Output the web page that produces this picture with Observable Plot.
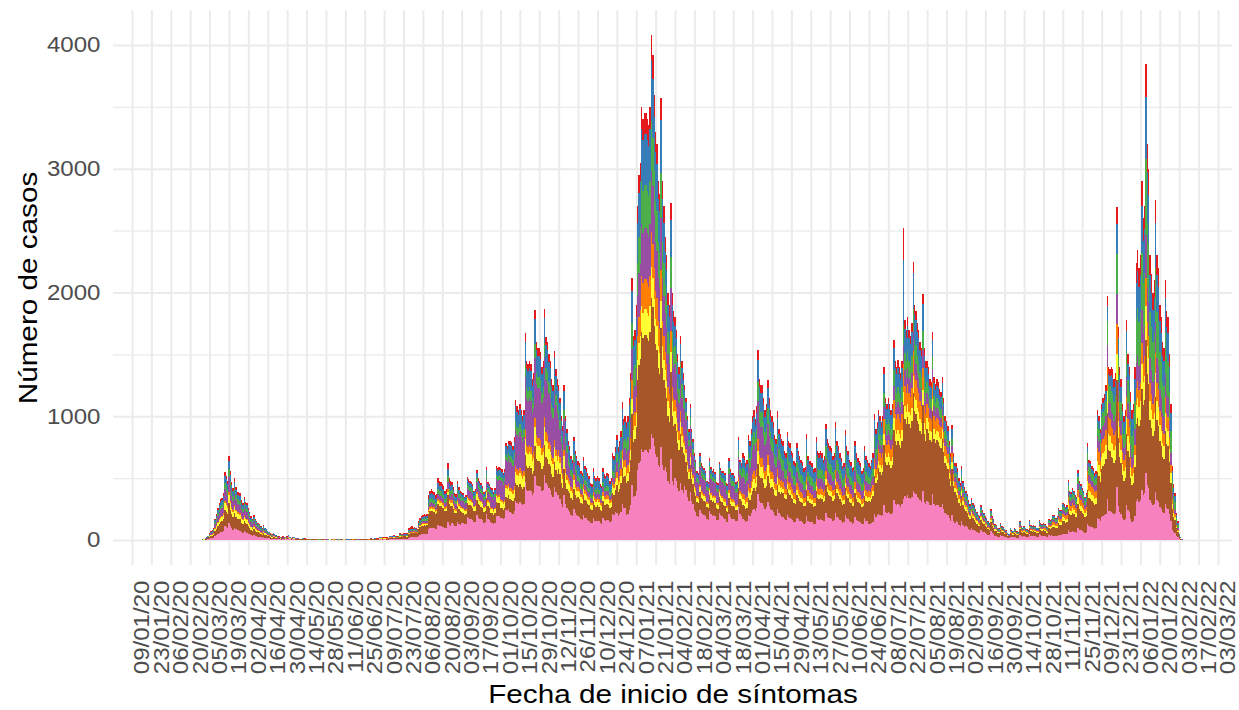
<!DOCTYPE html>
<html><head><meta charset="utf-8">
<script src="https://cdn.jsdelivr.net/npm/d3@7"></script>
<script src="https://cdn.jsdelivr.net/npm/@observablehq/plot@0.6"></script>
<style>html,body{margin:0;padding:0;background:#fff}#chart svg{display:block}</style>
</head><body><div id="chart"></div>
<script>
const startDay = "2020-02-13";
const provinces = ["Almería","Cádiz","Córdoba","Granada","Huelva","Jaén","Málaga","Sevilla"];
const palette = ["#E41A1C","#377EB8","#4DAF4A","#984EA3","#FF7F00","#FFFF33","#A65628","#F781BF"];
const stackOrder = ["Sevilla","Málaga","Jaén","Huelva","Granada","Córdoba","Cádiz","Almería"];
const tickLabels = ["09/01/20","23/01/20","06/02/20","20/02/20","05/03/20","19/03/20","02/04/20","16/04/20","30/04/20","14/05/20","28/05/20","11/06/20","25/06/20","09/07/20","23/07/20","06/08/20","20/08/20","03/09/20","17/09/20","01/10/20","15/10/20","29/10/20","12/11/20","26/11/20","10/12/20","24/12/20","07/01/21","21/01/21","04/02/21","18/02/21","04/03/21","18/03/21","01/04/21","15/04/21","29/04/21","13/05/21","27/05/21","10/06/21","24/06/21","08/07/21","22/07/21","05/08/21","19/08/21","02/09/21","16/09/21","30/09/21","14/10/21","28/10/21","11/11/21","25/11/21","09/12/21","23/12/21","06/01/22","20/01/22","03/02/22","17/02/22","03/03/22"];
const yTicks = [0,1000,2000,3000,4000];
const yMinor = [500,1500,2500,3500];
const xTitle = "Fecha de inicio de síntomas";
const yTitle = "Número de casos";

const sevilla = [
0,0,0,0,1,0,0,
0,1,0,0,1,1,1,
1,1,1,2,3,4,7,
11,14,16,19,34,42,52,
60,66,68,76,110,104,96,
136,112,94,84,100,86,78,
78,76,64,60,70,62,60,
52,46,38,34,40,34,30,
28,26,22,19,24,20,18,
15,13,11,9,12,10,8,
7,6,5,4,6,6,5,
6,8,5,4,6,5,4,
4,3,2,2,3,3,3,
2,2,2,1,2,2,2,
2,2,1,1,2,2,2,
1,2,1,1,2,1,1,
2,1,1,1,2,2,1,
2,1,1,1,2,1,2,
2,2,1,1,2,2,2,
2,2,2,2,3,2,2,
3,3,3,2,5,5,4,
5,5,4,4,7,7,7,
8,7,6,6,11,11,10,
12,12,11,11,20,21,22,
24,25,23,22,36,42,46,
48,50,48,50,86,96,98,
96,94,86,89,120,115,113,
108,106,96,98,149,120,115,
141,129,114,111,144,129,120,
140,137,126,130,184,176,173,
169,162,144,148,203,180,173,
166,158,140,144,212,169,162,
142,139,129,139,198,191,195,
180,177,167,177,242,236,248,
224,221,213,232,316,302,294,
308,294,280,294,468,406,398,
406,398,364,378,521,448,434,
434,426,392,406,524,459,448,
420,406,364,350,428,386,364,
363,334,290,267,363,290,261,
240,228,204,195,249,216,204,
192,186,168,162,201,180,174,
162,156,138,135,174,156,150,
156,150,135,132,174,159,156,
162,159,144,150,210,204,225,
221,195,208,229,290,255,260,
200,210,242,284,444,347,357,
399,567,620,641,735,714,725,
725,714,704,735,857,823,756,
693,672,609,588,750,609,567,
588,552,480,456,653,480,444,
504,476,420,392,462,406,378,
438,403,350,315,385,315,287,
245,228,196,189,245,217,210,
203,196,168,165,231,207,196,
200,193,165,161,221,203,196,
179,173,147,144,211,182,173,
173,166,150,154,266,208,198,
168,163,149,156,204,192,216,
240,252,235,259,368,312,300,
300,276,252,264,310,276,252,
240,228,204,197,250,216,206,
189,184,166,161,201,184,179,
166,161,147,143,179,166,156,
150,145,133,136,198,156,147,
147,143,131,133,192,166,161,
166,161,150,156,216,189,179,
175,170,156,161,219,184,175,
161,152,138,143,205,175,166,
150,145,133,136,184,161,152,
147,143,129,133,175,156,150,
130,126,137,147,214,189,200,
210,200,190,200,280,230,220,
230,220,210,220,323,290,280,
290,280,270,290,330,356,340,
360,340,330,350,400,380,370,
350,340,320,310,398,310,290,
319,308,286,282,370,290,277,
286,282,268,264,290,253,220,
211,202,176,154,205,154,136,
155,145,125,115,150,120,108,
112,104,90,81,95,84,78,
70,64,56,53,78,67,62,
53,50,42,39,70,53,48,
36,34,28,27,38,32,29,
25,22,17,14,28,22,21,
27,25,20,18,43,31,28,
31,28,24,22,45,34,32,
34,32,27,27,45,38,36,
31,29,24,23,37,35,37,
34,34,31,32,44,41,41,
51,49,46,48,82,68,66,
71,68,61,60,96,82,77,
71,68,60,65,133,111,109,
102,99,92,95,179,170,153,
187,196,201,213,335,238,235,
224,221,208,216,430,275,224,
208,176,160,168,285,240,224,
168,147,154,196,313,328,308,
322,406,364,378,539,448,420,
322,301,280,294,385,322,308,
266,252,224,217,294,259,252,
210,154,84,63,53,31,21,
7,4,1];

const malaga = [
0,1,0,0,1,1,0,
1,1,1,0,1,1,1,
1,1,1,2,4,5,8,
13,17,19,23,41,50,62,
72,79,82,91,132,125,115,
163,134,113,101,120,103,94,
94,91,77,72,84,74,72,
62,55,46,41,48,41,36,
34,31,26,23,29,24,22,
18,16,13,11,14,12,10,
8,7,6,5,7,7,6,
7,9,6,5,7,6,5,
5,4,4,3,5,4,4,
3,3,2,2,4,3,3,
3,2,2,2,3,3,2,
2,2,2,1,3,2,2,
2,2,2,2,3,2,3,
2,2,2,1,3,3,2,
3,3,2,2,3,3,3,
3,3,3,2,4,4,3,
5,5,4,4,7,7,7,
7,7,7,6,11,11,10,
11,11,10,9,16,16,15,
18,18,16,16,30,32,33,
34,36,32,31,51,60,65,
68,71,68,71,122,136,139,
136,133,122,126,170,163,160,
153,150,136,139,211,170,163,
132,120,106,104,134,120,112,
86,84,77,79,112,108,106,
103,99,88,90,124,110,106,
101,97,86,88,130,103,99,
77,76,70,76,108,104,106,
81,80,76,80,109,106,112,
104,103,99,108,147,140,137,
143,137,130,137,217,189,185,
189,185,169,176,242,208,202,
202,198,182,189,243,213,208,
195,189,169,163,199,179,169,
213,196,170,156,213,170,153,
160,152,136,130,166,144,136,
154,149,134,130,161,144,139,
130,125,110,108,139,125,120,
125,120,108,106,139,127,125,
130,127,115,120,168,163,180,
221,195,208,229,290,255,260,
257,270,311,365,571,446,459,
513,729,797,824,945,918,932,
932,918,905,945,1102,1058,972,
891,864,783,756,964,783,729,
637,598,520,494,707,520,481,
432,408,360,336,396,348,324,
250,230,200,180,220,180,164,
140,130,112,108,140,124,120,
116,112,96,94,132,118,112,
114,110,94,92,126,116,112,
106,103,87,86,125,108,103,
103,99,89,91,158,124,118,
112,109,99,104,136,128,144,
160,168,157,173,246,208,200,
200,184,168,176,206,184,168,
190,181,162,156,198,171,163,
197,192,173,168,210,192,187,
173,168,154,149,187,173,163,
156,151,139,142,206,163,154,
154,149,137,139,200,173,168,
173,168,156,163,226,197,187,
182,178,163,168,228,192,182,
168,158,144,149,214,182,173,
156,151,139,142,192,168,158,
154,149,134,139,182,163,156,
186,180,195,210,306,270,285,
368,350,333,350,490,403,385,
403,385,368,385,565,508,490,
508,490,473,508,760,623,595,
630,595,578,613,790,665,648,
613,595,560,543,697,543,508,
580,560,520,512,672,528,504,
520,512,488,480,528,460,400,
384,368,320,280,372,280,248,
211,197,170,156,204,163,146,
120,111,96,87,102,90,84,
75,69,60,57,84,72,66,
57,54,45,42,75,57,51,
39,36,30,28,40,35,32,
27,24,18,15,30,24,22,
28,27,21,20,46,33,30,
33,30,26,24,48,36,35,
36,35,29,29,48,41,39,
46,43,36,35,56,53,56,
70,70,63,67,91,84,84,
105,102,95,98,170,140,137,
147,140,126,123,198,168,158,
147,140,123,133,273,228,224,
210,203,189,196,368,350,315,
385,403,413,438,690,490,483,
448,442,416,432,861,550,448,
416,352,320,336,570,480,448,
336,294,308,392,626,655,616,
644,812,728,756,1078,896,840,
644,602,560,588,770,644,616,
532,504,448,434,588,518,504,
420,308,168,126,106,62,42,
14,7,2];

const jaen = [
0,0,0,0,0,0,0,
0,0,0,0,0,0,0,
0,0,1,1,1,2,4,
6,7,8,10,17,21,26,
30,33,34,38,55,52,48,
68,56,47,42,50,43,39,
39,38,32,30,35,31,30,
26,23,19,17,20,17,15,
14,13,11,10,12,10,9,
8,6,5,4,6,5,4,
4,3,3,2,3,3,3,
3,4,2,2,3,2,2,
1,1,1,0,1,1,1,
1,0,0,0,1,1,0,
0,0,0,0,1,0,0,
0,0,0,0,0,1,0,
0,0,0,0,0,0,1,
0,0,0,0,1,0,0,
0,0,0,0,1,0,0,
0,0,0,0,1,1,0,
1,1,0,1,1,1,1,
1,1,1,1,1,1,1,
2,1,1,1,2,2,2,
2,2,2,2,4,4,4,
5,5,5,4,8,9,9,
10,11,10,11,18,20,21,
20,20,18,19,25,24,24,
23,22,20,21,31,25,24,
28,26,23,22,29,26,24,
31,30,28,29,41,39,38,
38,36,32,33,45,40,38,
37,35,31,32,47,38,36,
34,34,31,34,48,46,47,
52,51,49,51,70,68,72,
64,63,61,66,90,86,84,
88,84,80,84,134,116,114,
116,114,104,108,149,128,124,
124,122,112,116,150,131,128,
120,116,104,100,122,110,104,
100,92,80,74,100,80,72,
64,61,54,52,66,58,54,
51,50,45,43,54,48,46,
43,42,37,36,46,42,40,
42,40,36,35,46,42,42,
43,42,38,40,56,54,60,
60,53,56,62,78,69,70,
57,60,69,81,127,99,102,
114,162,177,183,210,204,207,
207,204,201,210,245,235,216,
198,192,174,168,214,174,162,
147,138,120,114,163,120,111,
108,102,90,84,99,87,81,
75,69,60,54,66,54,49,
42,39,34,32,42,37,36,
35,34,29,28,40,35,34,
34,33,28,28,38,35,34,
34,32,28,27,40,34,32,
32,31,28,29,50,39,37,
49,48,43,46,60,56,63,
70,74,69,76,107,91,88,
88,81,74,77,90,81,74,
60,57,51,49,62,54,52,
41,40,36,35,44,40,39,
36,35,32,31,39,36,34,
33,32,29,30,43,34,32,
32,31,29,29,42,36,35,
36,35,33,34,47,41,39,
38,37,34,35,48,40,38,
35,33,30,31,45,38,36,
33,32,29,30,40,35,33,
32,31,28,29,38,34,33,
31,30,33,35,51,45,48,
63,60,57,60,84,69,66,
69,66,63,66,97,87,84,
87,84,81,87,105,107,102,
108,102,99,105,135,114,111,
105,102,96,93,119,93,87,
87,84,78,77,101,79,76,
78,77,73,72,79,69,60,
58,55,48,42,56,42,37,
43,41,35,32,42,34,30,
32,30,26,23,27,24,22,
20,18,16,15,22,19,18,
15,14,12,11,20,15,14,
10,10,8,8,11,9,8,
7,6,5,4,8,6,6,
8,7,6,5,12,9,8,
9,8,7,6,13,10,9,
10,9,8,8,13,11,10,
13,12,10,9,15,14,15,
18,18,16,17,23,22,22,
27,26,24,25,44,36,35,
38,36,32,32,51,43,41,
38,36,32,34,70,59,58,
54,52,49,50,95,90,81,
99,104,106,113,177,126,124,
112,110,104,108,215,138,112,
104,88,80,84,142,120,112,
84,74,77,98,156,164,154,
161,203,182,189,270,224,210,
161,150,140,147,193,161,154,
133,126,112,109,147,130,126,
105,77,42,32,27,15,11,
4,2,1];

const huelva = [
0,0,0,0,0,0,0,
0,0,0,0,0,0,0,
0,0,0,0,0,1,1,
2,2,2,3,5,6,8,
9,10,10,11,17,16,14,
20,17,14,13,15,13,12,
12,11,10,9,11,9,9,
8,7,6,5,6,5,5,
4,4,3,3,4,3,3,
2,2,2,1,2,2,1,
1,1,1,1,1,1,1,
1,3,1,1,1,1,1,
1,1,0,1,1,1,0,
1,1,1,0,1,0,1,
1,1,0,1,1,1,1,
1,0,1,0,1,1,0,
1,1,0,0,1,0,1,
0,1,0,0,1,1,1,
1,1,0,1,1,1,1,
1,1,1,1,1,1,1,
1,1,1,1,1,1,1,
1,1,1,1,2,2,2,
2,2,2,2,3,3,3,
3,3,3,3,5,5,6,
4,4,4,4,6,7,8,
8,8,8,8,14,16,16,
16,16,14,15,20,19,19,
18,18,16,16,25,20,19,
19,17,15,15,19,17,16,
12,11,11,11,15,15,14,
14,14,12,12,17,15,14,
14,13,12,12,18,14,14,
13,13,12,13,18,17,18,
17,17,16,17,23,23,24,
32,32,30,33,45,43,42,
44,42,40,42,67,58,57,
58,57,52,54,74,64,62,
62,61,56,58,75,66,64,
60,58,52,50,61,55,52,
50,46,40,37,50,40,36,
40,38,34,33,42,36,34,
32,31,28,27,34,30,29,
27,26,23,23,29,26,25,
26,25,23,22,29,27,26,
27,27,24,25,35,34,38,
51,45,48,53,67,59,60,
67,70,81,95,148,116,119,
133,189,207,214,245,238,242,
242,238,235,245,286,274,252,
231,224,203,196,250,203,189,
147,138,120,114,163,120,111,
90,85,75,70,83,73,68,
38,35,30,27,33,27,25,
21,20,17,16,21,19,18,
17,17,14,14,20,18,17,
17,17,14,14,19,17,17,
22,22,18,18,26,23,22,
22,21,19,19,33,26,25,
42,41,37,39,51,48,54,
60,63,59,65,92,78,75,
75,69,63,66,77,69,63,
60,57,51,49,62,54,52,
57,56,50,49,61,56,55,
50,49,45,43,55,50,48,
46,44,41,41,60,48,45,
45,43,40,41,58,50,49,
50,49,46,48,66,57,55,
53,52,48,49,67,56,53,
49,46,42,43,62,53,50,
46,44,41,41,56,49,46,
45,43,39,41,53,48,46,
50,48,52,56,82,72,76,
95,90,86,90,126,104,99,
104,99,95,99,145,131,126,
131,126,122,131,225,160,153,
162,153,149,158,203,171,167,
158,153,144,140,179,140,131,
116,112,104,102,134,106,101,
104,102,98,96,106,92,80,
77,74,64,56,74,56,50,
37,35,30,28,36,29,26,
20,19,16,15,17,15,14,
13,12,10,10,14,12,11,
10,9,8,7,13,10,9,
7,6,5,5,7,6,5,
5,4,3,3,5,4,4,
5,5,3,3,8,5,5,
5,5,4,4,8,6,6,
6,6,5,5,8,7,7,
11,10,9,8,14,13,14,
20,20,18,19,26,24,24,
30,29,27,28,49,40,39,
42,40,36,35,57,48,45,
42,40,35,38,78,65,64,
60,58,54,56,105,100,90,
110,115,118,125,197,140,138,
126,124,117,122,242,155,126,
117,99,90,95,160,135,126,
72,63,66,84,134,140,132,
138,174,156,162,231,192,180,
138,129,120,126,165,138,132,
114,108,96,93,126,111,108,
90,66,36,27,23,13,9,
3,1,0];

const granada = [
0,0,0,0,0,0,1,
0,0,0,1,1,0,1,
1,1,1,1,3,4,6,
10,13,14,17,31,38,47,
54,59,61,68,99,94,86,
122,101,85,76,90,77,70,
70,68,58,54,63,56,54,
47,41,34,31,36,31,27,
25,23,20,17,22,18,16,
13,12,10,8,11,9,7,
6,5,4,4,5,5,4,
5,7,4,4,5,4,4,
2,2,1,1,2,1,1,
1,1,1,1,1,1,1,
1,1,1,0,1,1,1,
1,1,0,1,1,1,1,
1,1,1,1,1,1,1,
1,1,0,1,1,1,1,
1,1,1,1,1,1,1,
1,1,1,1,1,1,1,
1,1,1,1,2,2,2,
2,2,2,2,3,3,3,
3,3,3,2,4,4,4,
5,5,4,4,8,8,9,
8,8,8,7,12,14,15,
16,17,16,17,29,32,33,
32,31,29,30,40,38,38,
36,35,32,33,50,40,38,
52,47,42,41,53,47,44,
55,53,49,50,71,69,67,
66,63,56,57,79,70,67,
64,62,55,56,83,66,63,
86,84,78,84,120,116,118,
151,148,140,148,203,198,208,
208,205,198,216,294,281,273,
286,273,260,273,434,377,369,
377,369,338,351,484,416,403,
403,395,364,377,486,426,416,
390,377,338,325,398,359,338,
250,230,200,184,250,200,180,
104,99,88,85,108,94,88,
45,43,39,38,47,42,41,
38,36,32,32,41,36,35,
36,35,32,31,41,37,36,
38,37,34,35,49,48,53,
77,68,72,79,100,88,90,
114,120,138,162,254,198,204,
228,324,354,366,420,408,414,
414,408,402,420,490,470,432,
396,384,348,336,428,348,324,
319,299,260,247,354,260,241,
288,272,240,224,264,232,216,
250,230,200,180,220,180,164,
140,130,112,108,140,124,120,
116,112,96,94,132,118,112,
114,110,94,92,126,116,112,
112,108,92,90,132,114,108,
108,104,94,96,166,130,124,
140,136,124,130,170,160,180,
200,210,196,216,307,260,250,
250,230,210,220,258,230,210,
170,162,145,139,177,153,146,
90,88,79,77,96,88,86,
79,77,70,68,86,79,75,
72,69,64,65,95,75,70,
70,68,63,64,92,79,77,
79,77,72,75,103,90,86,
84,81,75,77,105,88,84,
77,73,66,68,98,84,79,
72,69,64,65,88,77,73,
70,68,62,64,84,75,72,
56,54,59,63,92,81,86,
74,70,67,70,98,81,77,
81,77,74,77,113,102,98,
102,98,95,102,155,125,119,
126,119,116,123,158,133,130,
123,119,112,109,139,109,102,
87,84,78,77,101,79,76,
78,77,73,72,79,69,60,
58,55,48,42,56,42,37,
43,41,35,32,42,34,30,
32,30,26,23,27,24,22,
20,18,16,15,22,19,18,
15,14,12,11,20,15,14,
10,10,8,8,11,9,8,
7,6,5,4,8,6,6,
8,7,6,5,12,9,8,
9,8,7,6,13,10,9,
10,9,8,8,13,11,10,
11,10,9,8,14,13,14,
18,18,16,17,23,22,22,
27,26,24,25,44,36,35,
38,36,32,32,51,43,41,
38,36,32,34,70,59,58,
54,52,49,50,95,90,81,
99,104,106,113,177,126,124,
126,124,117,122,242,155,126,
117,99,90,95,160,135,126,
108,95,99,126,201,211,198,
207,261,234,243,347,288,270,
207,194,180,189,247,207,198,
171,162,144,140,189,167,162,
135,99,54,41,34,20,14,
4,2,1];

const cordoba = [
0,0,0,0,0,0,0,
0,0,0,0,0,0,0,
0,0,0,1,1,2,3,
5,6,7,9,15,19,23,
27,30,31,34,50,47,43,
61,50,42,38,45,39,35,
35,34,29,27,32,28,27,
23,21,17,15,18,15,14,
13,12,10,8,11,9,8,
7,6,5,4,5,4,4,
3,3,2,2,3,2,2,
3,3,2,1,2,2,1,
1,1,1,1,1,1,1,
1,1,0,1,1,1,1,
1,1,1,1,1,1,1,
1,1,1,0,1,1,1,
1,0,1,1,1,1,0,
1,1,1,1,1,0,1,
1,1,1,0,1,1,1,
1,1,1,1,1,1,1,
1,1,1,1,2,2,1,
1,1,1,1,2,2,2,
2,2,2,2,3,3,3,
4,4,3,3,6,6,7,
8,8,8,7,12,14,15,
16,17,16,17,29,32,33,
32,31,29,30,40,38,38,
36,35,32,33,50,40,38,
33,30,27,26,34,30,28,
23,23,21,22,31,29,29,
28,27,24,25,34,30,29,
28,26,23,24,35,28,27,
26,25,23,25,36,35,35,
29,29,27,29,39,38,40,
48,47,46,50,68,65,63,
66,63,60,63,100,87,85,
87,85,78,81,112,96,93,
93,91,84,87,112,98,96,
90,87,78,75,92,83,78,
75,69,60,55,75,60,54,
56,53,48,46,58,50,48,
45,43,39,38,47,42,41,
38,36,32,32,41,36,35,
36,35,32,31,41,37,36,
38,37,34,35,49,48,53,
68,60,64,70,89,78,80,
95,100,115,135,212,165,170,
190,270,295,305,350,340,345,
345,340,335,350,408,392,360,
330,320,290,280,357,290,270,
221,207,180,171,245,180,167,
144,136,120,112,132,116,108,
75,69,60,54,66,54,49,
42,39,34,32,42,37,36,
35,34,29,28,40,35,34,
34,33,28,28,38,35,34,
39,38,32,32,46,40,38,
38,36,33,34,58,46,43,
70,68,62,65,85,80,90,
100,105,98,108,154,130,125,
125,115,105,110,129,115,105,
100,95,85,82,104,90,86,
90,88,79,77,96,88,86,
79,77,70,68,86,79,75,
72,69,64,65,95,75,70,
70,68,63,64,92,79,77,
79,77,72,75,103,90,86,
84,81,75,77,105,88,84,
77,73,66,68,98,84,79,
72,69,64,65,88,77,73,
70,68,62,64,84,75,72,
56,54,59,63,92,81,86,
84,80,76,80,112,92,88,
92,88,84,88,129,116,112,
116,112,108,116,160,142,136,
144,136,132,140,180,152,148,
140,136,128,124,159,124,116,
87,84,78,77,101,79,76,
78,77,73,72,79,69,60,
58,55,48,42,56,42,37,
43,41,35,32,42,34,30,
28,26,22,20,24,21,20,
18,16,14,13,20,17,15,
13,13,11,10,18,13,12,
9,8,7,7,9,8,7,
6,6,4,4,7,6,5,
7,6,5,5,11,8,7,
8,7,6,6,11,8,8,
8,8,7,7,11,9,9,
11,10,9,8,14,13,14,
20,20,18,19,26,24,24,
30,29,27,28,49,40,39,
42,40,36,35,57,48,45,
42,40,35,38,78,65,64,
60,58,54,56,105,100,90,
110,115,118,125,197,140,138,
168,166,156,162,323,206,168,
156,132,120,126,214,180,168,
192,168,176,224,358,374,352,
368,464,416,432,616,512,480,
368,344,320,336,440,368,352,
304,288,256,248,336,296,288,
240,176,96,72,61,35,24,
8,4,1];

const cadiz = [
0,0,0,0,0,0,0,
0,0,0,0,0,0,0,
0,1,1,1,2,3,4,
5,7,9,9,17,21,26,
30,33,34,38,55,52,48,
68,56,47,42,50,43,39,
39,38,32,30,35,31,30,
26,23,19,17,20,17,15,
14,13,11,10,12,10,9,
8,6,5,5,6,5,4,
4,3,2,2,3,2,2,
3,3,3,2,2,2,2,
2,2,2,1,2,2,2,
1,1,1,1,1,1,1,
1,1,1,1,1,1,1,
1,1,1,1,1,1,1,
1,1,1,1,1,1,1,
1,1,1,1,1,1,1,
1,1,1,1,2,1,1,
2,1,1,1,2,2,2,
2,2,2,1,3,3,3,
3,3,2,2,4,4,4,
4,4,3,3,6,6,5,
6,6,6,6,10,11,11,
9,10,8,8,13,15,17,
18,19,18,19,32,36,37,
36,35,32,33,45,43,42,
41,40,36,37,56,45,43,
38,34,30,30,38,34,32,
27,27,25,25,36,34,34,
33,32,28,29,40,35,34,
32,31,27,28,41,33,32,
34,34,31,34,48,46,47,
52,51,49,51,70,68,72,
88,87,84,91,124,119,116,
121,116,110,116,184,160,156,
160,156,143,149,205,176,171,
171,167,154,160,206,180,176,
165,160,143,138,168,152,143,
150,138,120,110,150,120,108,
104,99,88,85,108,94,88,
90,87,78,76,94,84,81,
76,73,64,63,81,73,70,
73,70,63,62,81,74,73,
76,74,67,70,98,95,105,
111,98,104,114,145,127,130,
114,120,138,162,254,198,204,
228,324,354,366,420,408,414,
414,408,402,420,490,470,432,
396,384,348,336,428,348,324,
270,253,220,209,299,220,204,
162,153,135,126,149,131,122,
88,80,70,63,77,63,57,
49,46,39,38,49,43,42,
41,39,34,33,46,41,39,
40,38,33,32,44,41,39,
50,49,41,41,59,51,49,
49,47,42,43,75,59,56,
84,82,74,78,102,96,108,
120,126,118,130,184,156,150,
150,138,126,132,155,138,126,
130,124,111,107,135,117,112,
115,112,101,98,123,112,109,
101,98,90,87,109,101,95,
91,88,81,83,120,95,90,
90,87,80,81,117,101,98,
101,98,91,95,132,115,109,
106,104,95,98,133,112,106,
98,92,84,87,125,106,101,
91,88,81,83,112,98,92,
90,87,78,81,106,95,91,
81,78,85,91,133,117,124,
116,110,105,110,154,127,121,
127,121,116,121,178,160,154,
160,154,149,160,530,196,187,
198,187,182,193,290,209,204,
193,187,176,171,219,171,160,
116,112,104,102,134,106,101,
104,102,98,96,106,92,80,
77,74,64,56,74,56,50,
56,52,45,41,54,43,39,
36,33,29,26,31,27,25,
23,21,18,17,25,22,20,
17,16,14,13,22,17,15,
12,11,9,9,12,10,9,
8,7,5,4,9,7,7,
8,8,6,6,14,10,9,
10,9,8,7,14,11,10,
11,10,9,9,14,12,12,
10,9,8,7,12,11,12,
12,12,11,11,16,14,14,
18,17,16,17,29,24,23,
25,24,22,21,34,29,27,
25,24,21,23,47,39,38,
36,35,32,34,63,60,54,
66,69,71,75,118,84,83,
126,124,117,122,242,155,126,
117,99,90,95,160,135,126,
156,137,143,182,291,304,286,
299,377,338,351,500,416,390,
299,280,260,273,358,299,286,
247,234,208,202,273,241,234,
195,143,78,59,49,29,19,
6,3,1];

const almeria = [
0,0,0,0,0,0,0,
0,0,0,0,0,0,0,
0,0,0,0,1,1,2,
3,4,5,5,10,13,16,
18,20,20,24,32,30,30,
42,34,28,24,30,26,23,
23,24,18,18,20,19,18,
16,14,11,10,12,10,8,
8,8,7,5,6,6,5,
4,4,4,3,4,3,2,
2,2,2,2,2,2,2,
2,3,2,1,2,2,1,
2,1,1,1,1,1,1,
1,1,1,1,1,1,0,
0,0,0,0,0,0,0,
0,1,0,0,1,0,0,
0,0,0,0,1,1,0,
1,0,0,0,1,1,0,
1,1,1,0,1,1,1,
1,1,1,1,2,1,2,
2,2,2,2,3,3,3,
4,4,4,3,6,6,5,
6,6,5,5,10,10,10,
10,10,10,10,17,18,18,
8,9,7,7,12,14,15,
16,17,16,17,30,32,33,
32,30,30,28,40,40,36,
35,34,32,33,48,40,40,
27,27,23,21,29,27,24,
16,15,13,14,20,20,19,
19,17,16,16,23,20,19,
18,18,16,16,24,19,17,
18,15,16,15,24,25,24,
18,17,16,17,24,23,24,
32,32,29,34,46,44,41,
44,41,40,41,66,57,56,
57,56,52,53,73,64,61,
61,60,56,57,74,67,64,
60,57,52,49,62,56,52,
49,45,40,37,49,40,36,
32,30,28,24,33,28,28,
31,31,29,26,32,30,29,
26,26,24,21,29,26,25,
26,25,21,21,29,27,26,
26,27,24,25,35,34,36,
41,36,40,44,56,49,50,
46,50,56,66,105,81,85,
95,135,146,151,175,170,170,
171,170,166,175,202,198,180,
165,160,145,140,179,145,135,
121,115,100,95,136,100,91,
72,68,60,56,65,57,53,
36,34,30,27,33,27,25,
21,18,16,17,21,19,18,
17,16,14,14,19,18,16,
17,16,14,13,18,17,16,
18,15,15,12,21,18,15,
15,16,15,14,24,18,19,
35,33,32,32,42,40,45,
50,52,48,53,77,65,62,
62,57,52,55,65,57,52,
50,46,41,41,52,45,43,
41,40,36,35,44,40,39,
36,35,32,31,39,36,34,
30,32,29,28,43,34,32,
32,31,27,29,42,36,35,
36,35,30,34,47,41,39,
38,37,34,35,45,40,38,
35,33,30,31,43,38,36,
30,32,29,28,40,35,33,
32,31,28,29,38,34,30,
30,30,30,35,50,45,45,
40,40,36,40,56,44,44,
44,44,40,44,65,56,56,
58,56,52,56,255,71,68,
72,68,64,68,94,76,72,
68,68,64,60,80,60,56,
58,56,52,51,67,53,49,
52,51,49,48,53,46,40,
37,37,32,28,37,28,25,
32,28,25,24,30,23,21,
20,17,15,15,17,15,15,
11,12,10,10,15,12,10,
10,10,6,7,12,10,7,
7,5,5,3,7,6,7,
5,5,3,2,5,5,4,
4,5,3,3,9,5,5,
5,5,3,5,8,5,6,
5,6,2,2,8,6,7,
7,7,5,7,8,8,8,
8,8,7,8,11,9,9,
12,12,11,11,18,16,16,
17,16,15,12,21,19,16,
17,16,12,15,31,24,25,
24,23,21,23,40,40,36,
44,44,47,48,79,56,55,
70,69,65,66,135,86,70,
65,55,50,51,89,75,70,
84,72,77,98,156,164,154,
161,203,182,189,269,224,210,
161,150,140,147,192,161,154,
133,126,112,107,147,128,126,
105,77,42,30,27,15,10,
4,2,1];

const DAY = 864e5;
const series = {"Almería": almeria, "Cádiz": cadiz, "Córdoba": cordoba, "Granada": granada, "Huelva": huelva, "Jaén": jaen, "Málaga": malaga, "Sevilla": sevilla};
const t0 = Date.parse(startDay + "T00:00:00Z");
const nDays = Math.max(...provinces.map(p => series[p].length));
const rows = [];
for (const p of provinces) {
  for (let i = 0; i < nDays; i++) {
    const c = t0 + i * DAY;
    rows.push({province: p, x1: new Date(c - DAY / 2), x2: new Date(c + DAY / 2), value: series[p][i] ?? 0});
  }
}
const parseTick = d3.utcParse("%d/%m/%y");
const tickDates = tickLabels.map(parseTick);
const firstTick = +tickDates[0], lastTick = +tickDates[tickDates.length - 1];

const grid = "#EBEBEB";
const chart = Plot.plot({
  width: 1239, height: 710,
  marginLeft: 113, marginRight: 7, marginTop: 10, marginBottom: 145,
  style: {fontFamily: "'Liberation Sans', Arial, sans-serif", background: "#fff", overflow: "visible"},
  x: {type: "utc", domain: [new Date(firstTick - 13.72 * DAY), new Date(lastTick + 10.1 * DAY)], axis: null},
  y: {domain: [-202, 4283], axis: null},
  color: {domain: provinces, range: palette},
  marks: [
    Plot.ruleY(yMinor, {stroke: grid, strokeWidth: 1.3}),
    Plot.ruleY(yTicks, {stroke: grid, strokeWidth: 2}),
    Plot.ruleX(tickDates, {stroke: grid, strokeWidth: 2}),
    Plot.rectY(rows, {x1: "x1", x2: "x2", y: "value", fill: "province", order: stackOrder, shapeRendering: "crispEdges"}),
    Plot.text(yTicks, {y: d => d, text: d => String(d), frameAnchor: "left", lineAnchor: "middle", dx: -13, textAnchor: "end", fontSize: 21.5, fill: "#4D4D4D"}),
    Plot.text(tickLabels, {x: d => parseTick(d), text: d => d, frameAnchor: "bottom", lineAnchor: "middle", dy: 15, dx: 10, rotate: -90, textAnchor: "end", fontSize: 21.5, fill: "#4D4D4D"}),
    Plot.text([xTitle], {text: d => d, frameAnchor: "bottom", lineAnchor: "middle", dy: 129.5, textAnchor: "middle", fontSize: 26.5, fill: "#000"}),
    Plot.text([yTitle], {text: d => d, frameAnchor: "left", lineAnchor: "middle", dx: -84.5, rotate: -90, textAnchor: "middle", fontSize: 26.5, fill: "#000"})
  ]
});
document.getElementById("chart").appendChild(chart);
// widen glyphs horizontally (reference text is rendered ~12% wider than Arial)
chart.querySelectorAll("text").forEach(t => {
  const L = t.getComputedTextLength();
  if (!(L > 0)) return;
  const anchor = getComputedStyle(t).textAnchor;
  const S = L * 1.12;
  const x0 = parseFloat(t.getAttribute("x")) || 0;
  const off = anchor === "end" ? -S : anchor === "middle" ? -S / 2 : 0;
  t.setAttribute("text-anchor", "start");
  t.setAttribute("x", (x0 + off).toFixed(2));
  t.setAttribute("textLength", S.toFixed(2));
  t.setAttribute("lengthAdjust", "spacingAndGlyphs");
});
</script>
</body></html>
